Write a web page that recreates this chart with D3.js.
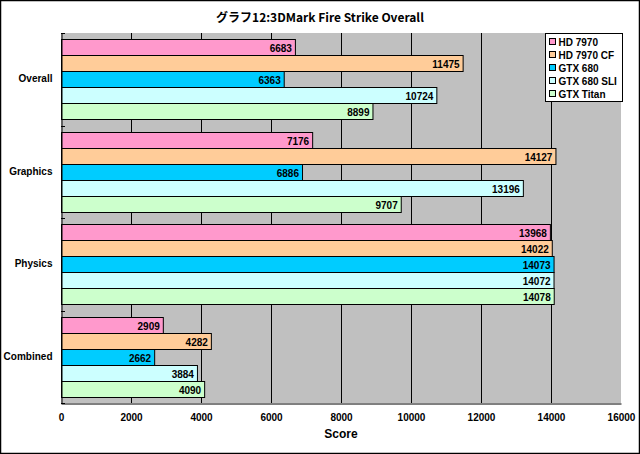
<!DOCTYPE html>
<html><head><meta charset="utf-8">
<script src="https://cdn.jsdelivr.net/npm/d3@7"></script>
<style>
html,body{margin:0;padding:0;background:#fff;}
svg{display:block;}
text{font-family:"Liberation Sans","DejaVu Sans",sans-serif;font-weight:bold;fill:#000;}
</style></head><body>
<script>
const title = "グラフ12:3DMark Fire Strike Overall";
const categories = ["Overall", "Graphics", "Physics", "Combined"];
const seriesNames = ["HD 7970", "HD 7970 CF", "GTX 680", "GTX 680 SLI", "GTX Titan"];
const seriesColors = ["#FF99CC", "#FFCC99", "#00CCFF", "#CCFFFF", "#CCFFCC"];
const hd7970 = [6683, 7176, 13968, 2909];
const hd7970cf = [11475, 14127, 14022, 4282];
const gtx680 = [6363, 6886, 14073, 2662];
const gtx680sli = [10724, 13196, 14072, 3884];
const gtxTitan = [8899, 9707, 14078, 4090];
const xTicks = [0, 2000, 4000, 6000, 8000, 10000, 12000, 14000, 16000];
const xTitle = "Score";

const values = [hd7970, hd7970cf, gtx680, gtx680sli, gtxTitan];
const W = 640, H = 454;
const m = {left: 61, right: 19, top: 33, bottom: 51};
const svg = d3.select("body").append("svg").attr("width", W).attr("height", H);
svg.append("rect").attr("x", 0.5).attr("y", 0.5).attr("width", W-1).attr("height", H-1)
  .attr("fill", "#fff").attr("stroke", "#000").attr("stroke-width", 1.5);

const x = d3.scaleLinear().domain([0, 16000]).range([m.left, W - m.right]);
const y = d3.scaleBand().domain(categories).range([m.top, H - m.bottom]).paddingInner(0).paddingOuter(0);
const bh = 16;
const yIn = d3.scaleBand().domain(seriesNames).range([0, bh * 5]);

svg.append("rect").attr("x", x(0)).attr("y", m.top).attr("width", x(16000) - x(0))
  .attr("height", H - m.bottom - m.top).attr("fill", "#C0C0C0");

// gridlines
svg.append("g").selectAll("line").data(xTicks.slice(1, -1)).join("line")
  .attr("x1", d => Math.round(x(d)) + 0.5).attr("x2", d => Math.round(x(d)) + 0.5)
  .attr("y1", m.top).attr("y2", H - m.bottom).attr("stroke", "#000").attr("stroke-width", 1);

// bars
categories.forEach((c, ci) => {
  const off = y(c) + (y.bandwidth() - bh * 5) / 2;
  const g = svg.append("g");
  seriesNames.forEach((s, si) => {
    const v = values[si][ci];
    const yy = Math.round(off + yIn(s));
    g.append("rect").attr("x", x(0) + 0.5).attr("y", yy + 0.5)
      .attr("width", x(v) - x(0)).attr("height", bh)
      .attr("fill", seriesColors[si]).attr("stroke", "#000").attr("stroke-width", 1);
    g.append("text").attr("x", x(v) - 3).attr("y", yy + bh / 2 + 4.5)
      .attr("text-anchor", "end").attr("font-size", 10).text(v);
  });
});

// axes
const xAxis = d3.axisBottom(x).tickValues(xTicks).tickSize(0).tickPadding(10).tickFormat(d => d);
const gx = svg.append("g").attr("transform", `translate(0,${H - m.bottom + 0.5})`).call(xAxis);
gx.select(".domain").attr("stroke", "#000");
gx.selectAll("text").attr("font-size", 10).attr("font-family", "Liberation Sans, sans-serif").attr("font-weight", "bold");

const yAxis = d3.axisLeft(y).tickSize(0).tickPadding(9);
const gy = svg.append("g").attr("transform", `translate(${x(0) + 0.5},0)`).call(yAxis);
gy.select(".domain").attr("stroke", "#000");
gy.selectAll("text").attr("font-size", 10).attr("font-family", "Liberation Sans, sans-serif").attr("font-weight", "bold");
// category boundary ticks
svg.append("g").selectAll("line").data(d3.range(categories.length + 1)).join("line")
  .attr("x1", x(0)).attr("x2", x(0) + 4)
  .attr("y1", i => Math.round(m.top + i * y.bandwidth()) + 0.5)
  .attr("y2", i => Math.round(m.top + i * y.bandwidth()) + 0.5)
  .attr("stroke", "#000");

svg.append("text").attr("x", (x(0) + x(16000)) / 2).attr("y", 438).attr("text-anchor", "middle")
  .attr("font-size", 12).text(xTitle);
svg.append("text").attr("x", 320).attr("y", 22).attr("text-anchor", "middle")
  .attr("font-size", 12).style("font-family", "'Noto Sans CJK JP', sans-serif").attr("font-weight", "normal").text(title);

// legend
const lg = svg.append("g").attr("transform", "translate(545.5,33.5)");
lg.append("rect").attr("width", 77).attr("height", 68).attr("fill", "#fff").attr("stroke", "#000");
seriesNames.forEach((s, i) => {
  lg.append("rect").attr("x", 4).attr("y", 5 + i * 13).attr("width", 6).attr("height", 6)
    .attr("fill", seriesColors[i]).attr("stroke", "#000");
  lg.append("text").attr("x", 13).attr("y", 12 + i * 13).attr("font-size", 10).text(s);
});
</script>
</body></html>
